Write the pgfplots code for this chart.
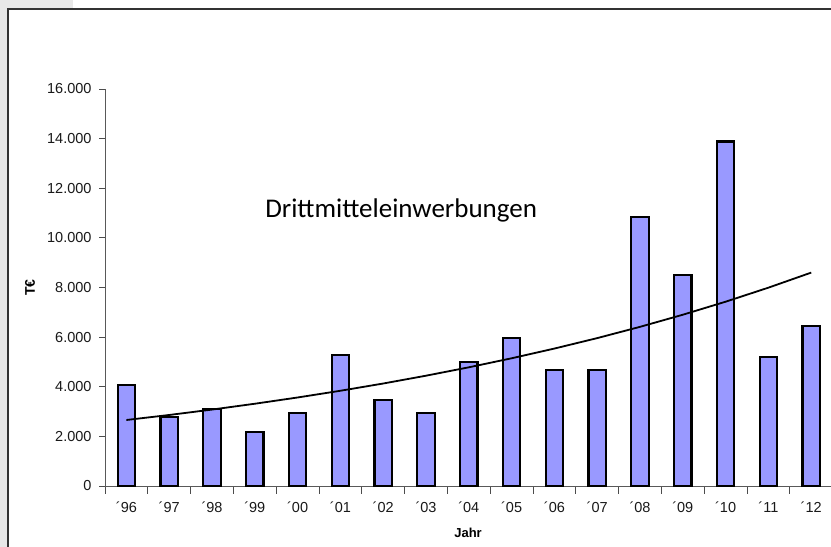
\documentclass[border=0pt]{standalone}
\usepackage{pgfplots}
\pgfplotsset{compat=1.18}
\usepackage{fontspec}
\setmainfont{Liberation Sans}
\newfontfamily\calib{Carlito}
\definecolor{barblue}{HTML}{9999FF}
\definecolor{bggray}{HTML}{E8E8E8}
\definecolor{framegray}{HTML}{333333}
\begin{document}
\begin{tikzpicture}[x=1bp,y=1bp]
\fill[bggray] (0,0) rectangle (8,547);
\fill[bggray] (0,538) rectangle (73,547);
\fill[white] (8,0) rectangle (831,538);
\begin{axis}[
  at={(105bp,61bp)}, anchor=south west,
  scale only axis, width=727.6bp, height=397bp,
  xmin=-0.5, xmax=16.5, ymin=0, ymax=16000,
  axis x line*=bottom, axis y line*=left,
  axis line style={black!65, line width=0.9bp},
  xtick={0,...,16},
  xticklabels={´96,´97,´98,´99,´00,´01,´02,´03,´04,´05,´06,´07,´08,´09,´10,´11,´12},
  minor xtick={-0.5,0.5,...,16.5},
  major x tick style={draw=none},
  minor x tick style={black!70, line width=0.9bp},
  minor tick length=8bp,
  ytick={0,2000,...,16000},
  major tick length=6bp,
  ytick style={black!70, line width=0.9bp},
  tick align=outside,
  scaled y ticks=false,
  yticklabel style={xshift=-4bp, /pgf/number format/.cd, fixed, precision=0, 1000 sep={.}, assume math mode=true},
  tick label style={font=\fontsize{14.5bp}{17bp}\selectfont, text=black!90},
  xticklabel style={yshift=-6bp},
  ylabel={T€},
  ylabel style={at={(axis description cs:-0.103,0.5)}, anchor=center, font=\fontsize{14bp}{16bp}\selectfont\bfseries},
  xlabel={Jahr},
  xlabel style={at={(axis description cs:0.499,-0.118)}, anchor=center, font=\fontsize{13bp}{15bp}\selectfont\bfseries},
  clip=false,
]
\addplot[ybar, bar width=0.41, fill=barblue, draw=black, line width=2.2bp] coordinates {
(0,4070) (1,2790) (2,3090) (3,2190) (4,2940) (5,5280) (6,3470) (7,2940)
(8,5000) (9,5960) (10,4680) (11,4680) (12,10840) (13,8500) (14,13880) (15,5200) (16,6450)
};
\addplot[black, line width=1.8bp, mark=none] coordinates {
(0,2660) (1,2862) (2,3080) (3,3315) (4,3567) (5,3838) (6,4130) (7,4445)
(8,4783) (9,5147) (10,5539) (11,5960) (12,6414) (13,6902) (14,7427) (15,7993) (16,8600)
};
\node[anchor=base west, inner sep=0pt, font=\calib\fontsize{27bp}{32bp}\selectfont] at (axis cs:3.24,10810) {Drittmitteleinwerbungen};
\end{axis}
\draw[framegray, line width=2bp] (8,0) -- (8,538) -- (831,538);
\pgfresetboundingbox
\useasboundingbox (0,0) rectangle (831,547);
\end{tikzpicture}
\end{document}
